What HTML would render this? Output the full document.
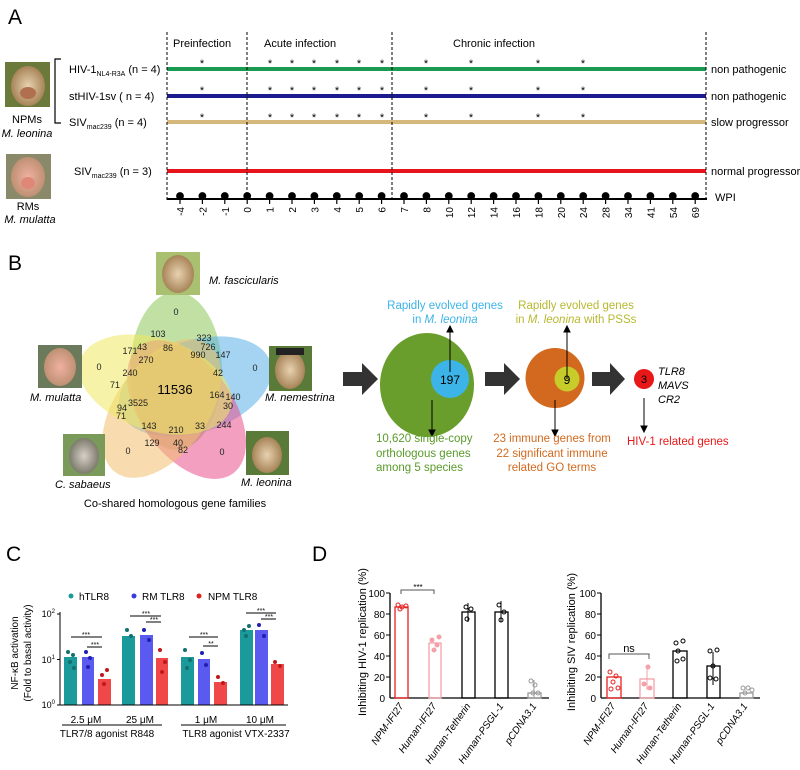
<!DOCTYPE html>
<html><head><meta charset="utf-8"><style>
html,body{margin:0;padding:0;background:#fff;}
svg{display:block;font-family:"Liberation Sans",Arial,sans-serif;}
</style></head><body>
<svg width="800" height="770" viewBox="0 0 800 770" xmlns="http://www.w3.org/2000/svg">
<defs>
<radialGradient id="face1" cx="50%" cy="50%" r="60%"><stop offset="0" stop-color="#e8d2b0"/><stop offset="1" stop-color="#9a7446"/></radialGradient>
<radialGradient id="face2" cx="50%" cy="50%" r="60%"><stop offset="0" stop-color="#f0b0a0"/><stop offset="1" stop-color="#b58a6a"/></radialGradient>
<radialGradient id="face3" cx="50%" cy="50%" r="60%"><stop offset="0" stop-color="#d8d0c8"/><stop offset="1" stop-color="#6a6a5a"/></radialGradient>
<g id="tk"><circle cx="0" cy="196" r="3.3"/><line x1="0" y1="196" x2="0" y2="204"/></g>
</defs>

<!-- ===== Panel A ===== -->
<text x="8" y="24" font-size="21">A</text>
<rect x="5" y="62" width="45" height="45" fill="#6b7a3a"/><ellipse cx="28" cy="86" rx="17" ry="20" fill="url(#face1)"/><ellipse cx="28" cy="93" rx="8" ry="6" fill="#b07050"/>
<text x="27" y="123" font-size="11" text-anchor="middle">NPMs</text>
<text x="27" y="137" font-size="11" font-style="italic" text-anchor="middle">M. leonina</text>
<rect x="6" y="154" width="45" height="45" fill="#8a8a6a"/><ellipse cx="28" cy="177" rx="17" ry="20" fill="url(#face2)"/><ellipse cx="28" cy="183" rx="7" ry="6" fill="#e08878"/>
<text x="28" y="210" font-size="11" text-anchor="middle">RMs</text>
<text x="30" y="223" font-size="11" font-style="italic" text-anchor="middle">M. mulatta</text>
<path d="M61,59 H55 V123 H61" fill="none" stroke="#000" stroke-width="1.2"/>
<text x="69" y="73" font-size="11">HIV-1<tspan font-size="7" dy="3">NL4-R3A</tspan><tspan dy="-3"> (n = 4)</tspan></text>
<text x="69" y="100" font-size="11">stHIV-1sv ( n = 4)</text>
<text x="69" y="126" font-size="11">SIV<tspan font-size="7" dy="3">mac239</tspan><tspan dy="-3"> (n = 4)</tspan></text>
<text x="74" y="175" font-size="11">SIV<tspan font-size="7" dy="3">mac239</tspan><tspan dy="-3"> (n = 3)</tspan></text>
<line x1="167" y1="69" x2="706" y2="69" stroke="#1a9a50" stroke-width="4"/>
<line x1="167" y1="96" x2="706" y2="96" stroke="#1c1c8c" stroke-width="4"/>
<line x1="167" y1="122" x2="706" y2="122" stroke="#d6b87c" stroke-width="4"/>
<line x1="167" y1="171" x2="706" y2="171" stroke="#e8141c" stroke-width="4"/>
<g stroke="#000" stroke-width="1" stroke-dasharray="3,2">
<line x1="167" y1="32" x2="167" y2="200"/><line x1="247" y1="32" x2="247" y2="200"/>
<line x1="392" y1="32" x2="392" y2="200"/><line x1="706" y1="32" x2="706" y2="200"/>
</g>
<text x="173" y="47" font-size="11">Preinfection</text>
<text x="264" y="47" font-size="11">Acute infection</text>
<text x="453" y="47" font-size="11">Chronic infection</text>
<g font-size="11"><text x="711" y="73">non pathogenic</text><text x="711" y="100">non pathogenic</text><text x="711" y="126">slow  progressor</text><text x="711" y="175">normal  progressor</text><text x="715" y="201">WPI</text></g>
<g font-size="11" text-anchor="middle">
<g transform="translate(0,67)"><text x="202">*</text><text x="270">*</text><text x="292">*</text><text x="314">*</text><text x="337">*</text><text x="359">*</text><text x="382">*</text><text x="426">*</text><text x="471">*</text><text x="538">*</text><text x="583">*</text></g>
<g transform="translate(0,94)"><text x="202">*</text><text x="270">*</text><text x="292">*</text><text x="314">*</text><text x="337">*</text><text x="359">*</text><text x="382">*</text><text x="426">*</text><text x="471">*</text><text x="538">*</text><text x="583">*</text></g>
<g transform="translate(0,121)"><text x="202">*</text><text x="270">*</text><text x="292">*</text><text x="314">*</text><text x="337">*</text><text x="359">*</text><text x="382">*</text><text x="426">*</text><text x="471">*</text><text x="538">*</text><text x="583">*</text></g>
</g>
<line x1="167" y1="199" x2="707" y2="199" stroke="#000" stroke-width="2"/>
<g fill="#000" stroke="#000" stroke-width="1.2">
<use href="#tk" x="180"/><use href="#tk" x="202.4"/><use href="#tk" x="224.8"/><use href="#tk" x="247.2"/><use href="#tk" x="269.6"/><use href="#tk" x="292"/><use href="#tk" x="314.4"/><use href="#tk" x="336.8"/><use href="#tk" x="359.2"/><use href="#tk" x="381.6"/><use href="#tk" x="404"/><use href="#tk" x="426.4"/><use href="#tk" x="448.8"/><use href="#tk" x="471.2"/><use href="#tk" x="493.6"/><use href="#tk" x="516"/><use href="#tk" x="538.4"/><use href="#tk" x="560.8"/><use href="#tk" x="583.2"/><use href="#tk" x="605.6"/><use href="#tk" x="628"/><use href="#tk" x="650.4"/><use href="#tk" x="672.8"/><use href="#tk" x="695.2"/>
</g>
<g font-size="10" text-anchor="end">
<text transform="translate(184,207) rotate(-90)">-4</text><text transform="translate(206.4,207) rotate(-90)">-2</text><text transform="translate(228.8,207) rotate(-90)">-1</text><text transform="translate(251.2,207) rotate(-90)">0</text><text transform="translate(273.6,207) rotate(-90)">1</text><text transform="translate(296,207) rotate(-90)">2</text><text transform="translate(318.4,207) rotate(-90)">3</text><text transform="translate(340.8,207) rotate(-90)">4</text><text transform="translate(363.2,207) rotate(-90)">5</text><text transform="translate(385.6,207) rotate(-90)">6</text><text transform="translate(408,207) rotate(-90)">7</text><text transform="translate(430.4,207) rotate(-90)">8</text><text transform="translate(452.8,207) rotate(-90)">10</text><text transform="translate(475.2,207) rotate(-90)">12</text><text transform="translate(497.6,207) rotate(-90)">14</text><text transform="translate(520,207) rotate(-90)">16</text><text transform="translate(542.4,207) rotate(-90)">18</text><text transform="translate(564.8,207) rotate(-90)">20</text><text transform="translate(587.2,207) rotate(-90)">24</text><text transform="translate(609.6,207) rotate(-90)">28</text><text transform="translate(632,207) rotate(-90)">34</text><text transform="translate(654.4,207) rotate(-90)">41</text><text transform="translate(676.8,207) rotate(-90)">54</text><text transform="translate(699.2,207) rotate(-90)">69</text>
</g>

<!-- ===== Panel B ===== -->
<text x="8" y="270" font-size="21">B</text>
<g>
<ellipse cx="176" cy="371" rx="46" ry="79" fill="#8cc65a" opacity="0.55" transform="rotate(0 175 392)"/>
<ellipse cx="176" cy="371" rx="46" ry="79" fill="#5ab0e6" opacity="0.55" transform="rotate(72 175 392)"/>
<ellipse cx="176" cy="371" rx="46" ry="79" fill="#e8508c" opacity="0.55" transform="rotate(144 175 392)"/>
<ellipse cx="176" cy="371" rx="46" ry="79" fill="#f2c070" opacity="0.55" transform="rotate(216 175 392)"/>
<ellipse cx="176" cy="371" rx="46" ry="79" fill="#eee860" opacity="0.55" transform="rotate(288 175 392)"/>
</g>
<g font-size="9" text-anchor="middle" fill="#222">
<text x="176" y="315">0</text><text x="158" y="337">103</text><text x="204" y="341">323</text><text x="130" y="354">171</text><text x="142" y="350">43</text><text x="168" y="351">86</text><text x="208" y="350">726</text><text x="146" y="363">270</text><text x="198" y="358">990</text><text x="223" y="358">147</text><text x="99" y="370">0</text><text x="130" y="376">240</text><text x="218" y="376">42</text><text x="255" y="371">0</text><text x="115" y="388">71</text>
<text x="217" y="398">164</text><text x="233" y="400">140</text><text x="138" y="406">3525</text><text x="228" y="409">30</text><text x="122" y="411">94</text><text x="121" y="419">71</text><text x="149" y="429">143</text><text x="176" y="433">210</text><text x="200" y="429">33</text><text x="224" y="428">244</text><text x="152" y="446">129</text><text x="178" y="446">40</text><text x="183" y="453">82</text><text x="128" y="454">0</text><text x="222" y="455">0</text>
</g>
<text x="175" y="394" font-size="13" text-anchor="middle">11536</text>
<rect x="156" y="252" width="44" height="43" fill="#a8c070"/><ellipse cx="178" cy="274" rx="16" ry="19" fill="url(#face1)"/>
<text x="209" y="284" font-size="11" font-style="italic">M. fascicularis</text>
<rect x="38" y="345" width="44" height="43" fill="#6a7a5a"/><ellipse cx="60" cy="367" rx="16" ry="19" fill="url(#face2)"/>
<text x="30" y="401" font-size="11" font-style="italic">M. mulatta</text>
<rect x="269" y="346" width="43" height="45" fill="#5a7a3a"/><ellipse cx="290" cy="370" rx="15" ry="19" fill="url(#face1)"/><rect x="276" y="348" width="28" height="7" fill="#222"/>
<text x="265" y="401" font-size="11" font-style="italic">M. nemestrina</text>
<rect x="63" y="434" width="42" height="42" fill="#7a9a5a"/><ellipse cx="84" cy="456" rx="15" ry="18" fill="url(#face3)"/>
<text x="55" y="488" font-size="11" font-style="italic">C. sabaeus</text>
<rect x="246" y="431" width="43" height="44" fill="#5a7a3a"/><ellipse cx="267" cy="455" rx="15" ry="18" fill="url(#face1)"/>
<text x="241" y="486" font-size="11" font-style="italic">M. leonina</text>
<text x="175" y="507" font-size="11" text-anchor="middle">Co-shared homologous gene families</text>
<g fill="#333"><path d="M343,372 H362 V363 L378,379 L362,395 V386 H343 Z"/><path d="M485,372 H504 V363 L520,379 L504,395 V386 H485 Z"/><path d="M592,372 H610 V363 L625,379 L610,395 V386 H592 Z"/></g>
<ellipse cx="427" cy="385" rx="47" ry="52" fill="#6a9e2c"/>
<circle cx="450" cy="379" r="19" fill="#3cb4e8"/>
<text x="450" y="384" font-size="12" text-anchor="middle">197</text>
<ellipse cx="555" cy="378" rx="29.5" ry="30" fill="#d2691e"/>
<circle cx="567" cy="379" r="12.5" fill="#c8cc2a"/>
<text x="567" y="384" font-size="12" text-anchor="middle">9</text>
<circle cx="644" cy="379" r="10" fill="#e81818"/>
<text x="644" y="383" font-size="11" text-anchor="middle">3</text>
<g font-size="11" font-style="italic"><text x="658" y="375">TLR8</text><text x="658" y="389">MAVS</text><text x="658" y="403">CR2</text></g>
<g stroke="#000" stroke-width="1" fill="#000">
<line x1="450" y1="372" x2="450" y2="330"/><path d="M447,332 L450,326 L453,332Z"/>
<line x1="432" y1="400" x2="432" y2="432"/><path d="M429,430 L432,436 L435,430Z"/>
<line x1="567" y1="379" x2="567" y2="330"/><path d="M564,332 L567,326 L570,332Z"/>
<line x1="555" y1="400" x2="555" y2="432"/><path d="M552,430 L555,436 L558,430Z"/>
<line x1="644" y1="398" x2="644" y2="428"/><path d="M641,426 L644,432 L647,426Z"/>
</g>
<g font-size="11.5" fill="#3cb4e8" text-anchor="middle"><text x="445" y="309">Rapidly evolved genes</text><text x="445" y="323">in  <tspan font-style="italic">M. leonina</tspan></text></g>
<g font-size="11.5" fill="#b8b830" text-anchor="middle"><text x="576" y="309">Rapidly evolved genes</text><text x="576" y="323">in <tspan font-style="italic">M. leonina</tspan> with PSSs</text></g>
<g font-size="11.5" fill="#5a9a2a"><text x="376" y="442">10,620 single-copy</text><text x="376" y="457">orthologous genes</text><text x="376" y="471">among 5 species</text></g>
<g font-size="11.5" fill="#d2691e" text-anchor="middle"><text x="552" y="442">23 immune genes from</text><text x="552" y="457">22 significant immune</text><text x="552" y="471">related GO terms</text></g>
<text x="627" y="445" font-size="11.5" fill="#e81818">HIV-1 related genes</text>

<!-- ===== Panel C ===== -->
<text x="6" y="561" font-size="21">C</text>
<g font-size="10"><circle cx="71" cy="596" r="2.5" fill="#1a9a9a"/><text x="79" y="600">hTLR8</text>
<circle cx="134" cy="596" r="2.5" fill="#3a3ae0"/><text x="142" y="600">RM TLR8</text>
<circle cx="199" cy="596" r="2.5" fill="#e02020"/><text x="208" y="600">NPM TLR8</text></g>
<g font-size="10" text-anchor="middle">
<text transform="translate(18,653) rotate(-90)">NF-κB activation</text>
<text transform="translate(31,653) rotate(-90)">(Fold to basal activity)</text></g>
<line x1="60" y1="612" x2="60" y2="705" stroke="#000" stroke-width="1"/>
<g stroke="#000" stroke-width="1"><line x1="57" y1="614" x2="60" y2="614"/><line x1="57" y1="659.5" x2="60" y2="659.5"/><line x1="57" y1="705" x2="60" y2="705"/></g>
<g font-size="9" text-anchor="end"><text x="55" y="617">10<tspan font-size="6" dy="-4">2</tspan></text><text x="55" y="663">10<tspan font-size="6" dy="-4">1</tspan></text><text x="55" y="708">10<tspan font-size="6" dy="-4">0</tspan></text></g>
<g>
<rect x="64" y="657" width="13" height="48" fill="#1a9a9a"/><rect x="82" y="657" width="12" height="48" fill="#5a5af0"/><rect x="98" y="679" width="13" height="26" fill="#f04848"/>
<rect x="122" y="636" width="13" height="69" fill="#1a9a9a"/><rect x="140" y="635" width="13" height="70" fill="#5a5af0"/><rect x="156" y="658" width="12" height="47" fill="#f04848"/>
<rect x="181" y="657" width="13" height="48" fill="#1a9a9a"/><rect x="198" y="659" width="12" height="46" fill="#5a5af0"/><rect x="214" y="682" width="13" height="23" fill="#f04848"/>
<rect x="240" y="630" width="13" height="75" fill="#1a9a9a"/><rect x="255" y="630" width="13" height="75" fill="#5a5af0"/><rect x="271" y="664" width="13" height="41" fill="#f04848"/>
</g>
<g>
<g fill="#137070"><circle cx="68" cy="652" r="2"/><circle cx="73" cy="655" r="2"/><circle cx="70" cy="662" r="2"/><circle cx="74" cy="668" r="2"/><circle cx="127" cy="630" r="2"/><circle cx="131" cy="636" r="2"/><circle cx="185" cy="650" r="2"/><circle cx="190" cy="660" r="2"/><circle cx="187" cy="668" r="2"/><circle cx="244" cy="630" r="2"/><circle cx="249" cy="626" r="2"/><circle cx="246" cy="636" r="2"/></g>
<g fill="#2020b0"><circle cx="86" cy="652" r="2"/><circle cx="90" cy="658" r="2"/><circle cx="88" cy="667" r="2"/><circle cx="144" cy="630" r="2"/><circle cx="149" cy="640" r="2"/><circle cx="202" cy="653" r="2"/><circle cx="206" cy="665" r="2"/><circle cx="259" cy="625" r="2"/><circle cx="264" cy="636" r="2"/></g>
<g fill="#c01818"><circle cx="102" cy="675" r="2"/><circle cx="107" cy="670" r="2"/><circle cx="104" cy="684" r="2"/><circle cx="160" cy="650" r="2"/><circle cx="165" cy="662" r="2"/><circle cx="162" cy="672" r="2"/><circle cx="218" cy="677" r="2"/><circle cx="223" cy="683" r="2"/><circle cx="275" cy="662" r="2"/><circle cx="280" cy="666" r="2"/></g>
</g>
<g stroke="#000" stroke-width="1">
<line x1="71" y1="637" x2="102" y2="637"/><line x1="87" y1="647" x2="102" y2="647"/>
<line x1="130" y1="616" x2="161" y2="616"/><line x1="146" y1="622" x2="161" y2="622"/>
<line x1="189" y1="637" x2="218" y2="637"/><line x1="203" y1="646" x2="218" y2="646"/>
<line x1="246" y1="613" x2="276" y2="613"/><line x1="261" y1="619" x2="276" y2="619"/>
<line x1="60" y1="705" x2="288" y2="705"/>
<line x1="62" y1="725" x2="162" y2="725"/><line x1="181" y1="725" x2="286" y2="725"/>
</g>
<g font-size="7" text-anchor="middle"><text x="86" y="637">***</text><text x="95" y="647">***</text><text x="146" y="616">***</text><text x="154" y="622">***</text><text x="204" y="637">***</text><text x="211" y="646">**</text><text x="261" y="613">***</text><text x="269" y="619">***</text></g>
<g font-size="10" text-anchor="middle"><text x="86" y="723">2.5 μM</text><text x="140" y="723">25 μM</text><text x="206" y="723">1 μM</text><text x="260" y="723">10 μM</text>
<text x="107" y="737">TLR7/8 agonist R848</text><text x="236" y="737">TLR8 agonist VTX-2337</text></g>

<!-- ===== Panel D ===== -->
<text x="312" y="561" font-size="21">D</text>
<text transform="translate(366,642) rotate(-90)" font-size="11" text-anchor="middle">Inhibiting  HIV-1 replication (%)</text>
<line x1="390" y1="593" x2="390" y2="698" stroke="#000" stroke-width="1.3"/>
<line x1="390" y1="698" x2="549" y2="698" stroke="#000" stroke-width="1.3"/>
<g stroke="#000" stroke-width="1"><line x1="386" y1="593" x2="390" y2="593"/><line x1="386" y1="614" x2="390" y2="614"/><line x1="386" y1="635" x2="390" y2="635"/><line x1="386" y1="656" x2="390" y2="656"/><line x1="386" y1="677" x2="390" y2="677"/></g>
<g font-size="10" text-anchor="end"><text x="385" y="597">100</text><text x="385" y="618">80</text><text x="385" y="639">60</text><text x="385" y="660">40</text><text x="385" y="681">20</text><text x="385" y="702">0</text></g>
<g fill="none" stroke-width="1.3">
<rect x="395" y="607" width="13" height="91" stroke="#e82020"/>
<rect x="429" y="643" width="12" height="55" stroke="#f4a0a8"/>
<rect x="462" y="612" width="13" height="86" stroke="#000"/>
<rect x="495" y="612" width="13" height="86" stroke="#000"/>
<rect x="528" y="693" width="13" height="5" stroke="#999"/>
</g>
<g fill="none" stroke-width="1">
<g stroke="#e82020"><circle cx="398" cy="605" r="2"/><circle cx="402" cy="607" r="2"/><circle cx="406" cy="606" r="2"/><circle cx="400" cy="609" r="2"/></g>
<g stroke="#f4a0a8" fill="#f4a0a8"><circle cx="432" cy="640" r="2"/><circle cx="437" cy="645" r="2"/><circle cx="434" cy="650" r="2"/><circle cx="439" cy="637" r="2"/></g>
<g stroke="#000"><circle cx="466" cy="607" r="2"/><circle cx="471" cy="609" r="2"/><circle cx="467" cy="619" r="2"/><circle cx="499" cy="605" r="2"/><circle cx="504" cy="612" r="2"/><circle cx="501" cy="620" r="2"/><line x1="468" y1="603" x2="468" y2="622"/><line x1="501" y1="601" x2="501" y2="622"/></g>
<g stroke="#999"><circle cx="531" cy="681" r="2"/><circle cx="535" cy="685" r="2"/><circle cx="533" cy="693" r="2"/><circle cx="538" cy="693" r="2"/><line x1="534" y1="680" x2="534" y2="698"/></g>
</g>
<path d="M401,594 V590 H434 V594" fill="none" stroke="#555" stroke-width="1"/>
<text x="418" y="590" font-size="8" text-anchor="middle">***</text>
<g font-size="10" font-style="italic" text-anchor="end">
<text transform="translate(404,706) rotate(-55)">NPM-IFI27</text>
<text transform="translate(437,706) rotate(-55)">Human-IFI27</text>
<text transform="translate(471,706) rotate(-55)">Human-Tetherin</text>
<text transform="translate(504,706) rotate(-55)">Human-PSGL-1</text>
<text transform="translate(537,706) rotate(-55)">pCDNA3.1</text>
</g>
<text transform="translate(575,642) rotate(-90)" font-size="11" text-anchor="middle">Inhibiting SIV replication (%)</text>
<line x1="601" y1="593" x2="601" y2="698" stroke="#000" stroke-width="1.3"/>
<line x1="601" y1="698" x2="760" y2="698" stroke="#000" stroke-width="1.3"/>
<g stroke="#000" stroke-width="1"><line x1="597" y1="593" x2="601" y2="593"/><line x1="597" y1="614" x2="601" y2="614"/><line x1="597" y1="635" x2="601" y2="635"/><line x1="597" y1="656" x2="601" y2="656"/><line x1="597" y1="677" x2="601" y2="677"/></g>
<g font-size="10" text-anchor="end"><text x="596" y="597">100</text><text x="596" y="618">80</text><text x="596" y="639">60</text><text x="596" y="660">40</text><text x="596" y="681">20</text><text x="596" y="702">0</text></g>
<g fill="none" stroke-width="1.3">
<rect x="607" y="677" width="14" height="21" stroke="#e82020"/>
<rect x="640" y="679" width="14" height="19" stroke="#f4a0a8"/>
<rect x="673" y="651" width="14" height="47" stroke="#000"/>
<rect x="707" y="666" width="13" height="32" stroke="#000"/>
<rect x="740" y="693" width="13" height="5" stroke="#999"/>
</g>
<g fill="none" stroke-width="1">
<g stroke="#e82020"><circle cx="610" cy="672" r="2"/><circle cx="616" cy="676" r="2"/><circle cx="613" cy="682" r="2"/><circle cx="618" cy="688" r="2"/><circle cx="611" cy="689" r="2"/></g>
<g stroke="#f4a0a8" fill="#f4a0a8"><circle cx="648" cy="667" r="2"/><circle cx="644" cy="684" r="2"/><circle cx="650" cy="688" r="2"/><line x1="647" y1="668" x2="647" y2="690"/></g>
<g stroke="#000"><circle cx="676" cy="643" r="2"/><circle cx="683" cy="641" r="2"/><circle cx="678" cy="651" r="2"/><circle cx="683" cy="659" r="2"/><circle cx="677" cy="661" r="2"/><circle cx="710" cy="651" r="2"/><circle cx="717" cy="650" r="2"/><circle cx="713" cy="666" r="2"/><circle cx="710" cy="678" r="2"/><circle cx="716" cy="679" r="2"/><line x1="713" y1="652" x2="713" y2="685"/></g>
<g stroke="#999"><circle cx="743" cy="688" r="2"/><circle cx="748" cy="688" r="2"/><circle cx="752" cy="690" r="2"/><circle cx="745" cy="693" r="2"/></g>
</g>
<path d="M609,659 V654 H649 V659" fill="none" stroke="#555" stroke-width="1"/>
<text x="629" y="652" font-size="11" text-anchor="middle">ns</text>
<g font-size="10" font-style="italic" text-anchor="end">
<text transform="translate(616,706) rotate(-55)">NPM-IFI27</text>
<text transform="translate(649,706) rotate(-55)">Human-IFI27</text>
<text transform="translate(682,706) rotate(-55)">Human-Tetherin</text>
<text transform="translate(715,706) rotate(-55)">Human-PSGL-1</text>
<text transform="translate(748,706) rotate(-55)">pCDNA3.1</text>
</g>
</svg>
</body></html>
